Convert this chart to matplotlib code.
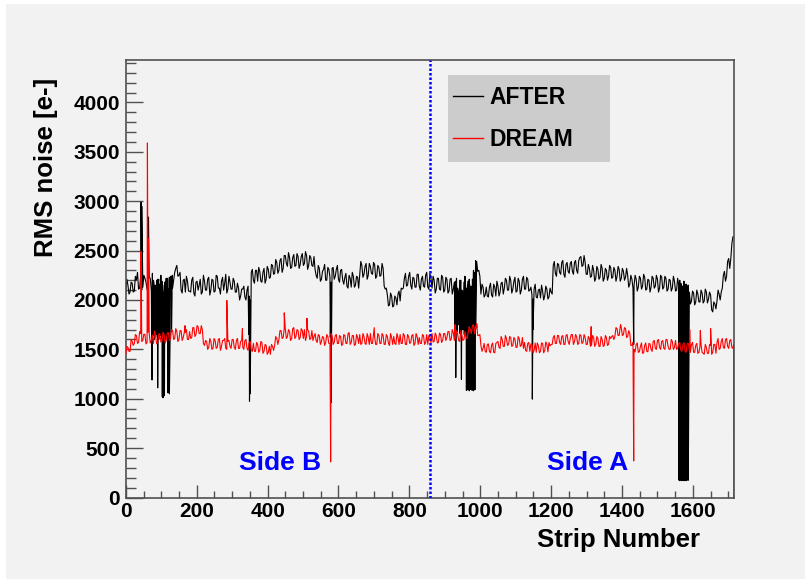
import numpy as np
import matplotlib
matplotlib.use("Agg")
import matplotlib.pyplot as plt
from matplotlib.patches import Rectangle
from matplotlib.lines import Line2D

# strip noise, every 6 strips (strip 0 ... 1716)
step = 6
after_base = [
    2060, 2150, 2080, 2170, 2090, 2200, 2110, 2240, 2130, 2220,
    2110, 2230, 2100, 2200, 2090, 2210, 2120, 2190, 2080, 2220,
    2110, 2200, 2120, 2280, 2350, 2250, 2100, 2200, 2080, 2190,
    2090, 2200, 2070, 2180, 2100, 2210, 2080, 2190, 2100, 2230,
    2100, 2200, 2090, 2240, 2120, 2190, 2100, 2260, 2110, 2180,
    2110, 2190, 2080, 2120, 2040, 2110, 2030, 2100, 2040, 2280,
    2200, 2300, 2190, 2290, 2180, 2320, 2210, 2310, 2230, 2350,
    2270, 2380, 2300, 2420, 2320, 2450, 2340, 2430, 2330, 2460,
    2350, 2440, 2360, 2470, 2370, 2450, 2350, 2430, 2340, 2310,
    2220, 2320, 2210, 2310, 2200, 2330, 2230, 2320, 2210, 2310,
    2210, 2300, 2200, 2230, 2140, 2250, 2130, 2240, 2150, 2230,
    2250, 2350, 2260, 2370, 2250, 2340, 2260, 2360, 2240, 2330,
    2250, 2320, 2110, 2050, 1950, 2040, 1940, 2020, 2060, 1990,
    2110, 2220, 2140, 2240, 2150, 2230, 2130, 2260, 2140, 2210,
    2140, 2250, 2130, 2270, 2120, 2200, 2110, 2220, 2100, 2230,
    2100, 2210, 2090, 2220, 2110, 2190, 2120, 2200, 2100, 2180,
    2110, 2190, 2100, 2210, 2280, 2390, 2300, 2060, 2130, 2050,
    2040, 2130, 2050, 2160, 2040, 2140, 2080, 2180, 2120, 2200,
    2100, 2200, 2110, 2230, 2090, 2190, 2100, 2240, 2110, 2210,
    2100, 2050, 2110, 2030, 2100, 2020, 2090, 2040, 2110, 2030,
    2080, 2350, 2270, 2370, 2280, 2380, 2260, 2360, 2290, 2370,
    2290, 2380, 2300, 2400, 2440, 2350, 2380, 2260, 2320, 2240,
    2300, 2220, 2310, 2230, 2320, 2220, 2300, 2240, 2330, 2230,
    2300, 2240, 2310, 2220, 2290, 2230, 2250, 2160, 2210, 2150,
    2210, 2130, 2220, 2140, 2230, 2110, 2200, 2130, 2220, 2140,
    2210, 2120, 2230, 2130, 2220, 2110, 2200, 2120, 2190, 2100,
    2150, 2170, 2140, 2160, 2130, 2080, 1990, 2070, 1980, 2060,
    1980, 2070, 1990, 2080, 2010, 2050, 1880, 1960, 1990, 2060,
    2080, 2250, 2190, 2390, 2320, 2570, 2640,
]
# in-between strips 3, 9, 15 ... 1713
after_mid = [
    2210, 2060, 2180, 2080, 2240, 2280, 2120, 2100, 2250, 2180,
    2070, 2220, 2270, 2120, 2060, 2210, 2250, 2090, 2180, 2080,
    2230, 2070, 2200, 2320, 2240, 2280, 2070, 2210, 2240, 2090,
    2080, 2230, 2040, 2190, 2150, 2060, 2250, 2100, 2210, 2050,
    2210, 2080, 2250, 2120, 2060, 2230, 2170, 2070, 2240, 2110,
    2220, 2080, 2170, 2000, 2110, 2140, 2000, 2140, 2000, 2310,
    2170, 2300, 2330, 2190, 2280, 2170, 2340, 2220, 2360, 2260,
    2410, 2270, 2400, 2280, 2450, 2370, 2480, 2320, 2430, 2340,
    2470, 2320, 2440, 2350, 2490, 2310, 2450, 2350, 2440, 2250,
    2350, 2190, 2290, 2360, 2200, 2310, 2180, 2330, 2240, 2350,
    2180, 2310, 2160, 2270, 2120, 2220, 2280, 2130, 2240, 2120,
    2390, 2230, 2340, 2210, 2370, 2270, 2380, 2220, 2350, 2240,
    2370, 2140, 2120, 1940, 2070, 1930, 2040, 1950, 2090, 2120,
    2120, 2270, 2150, 2280, 2110, 2220, 2130, 2260, 2100, 2240,
    2130, 2280, 2110, 2220, 2240, 2070, 2220, 2110, 2250, 2080,
    2230, 2070, 2210, 2060, 2180, 2220, 2070, 2200, 2080, 2240,
    2080, 2210, 2080, 2300, 2400, 2290, 2240, 2160, 2030, 2130,
    2030, 2170, 2030, 2130, 2190, 2040, 2170, 2060, 2220, 2100,
    2240, 2070, 2190, 2080, 2220, 2060, 2210, 2110, 2230, 2090,
    2130, 2010, 2160, 2020, 2110, 2150, 2000, 2140, 2010, 2120,
    2060, 2390, 2240, 2360, 2260, 2400, 2230, 2380, 2270, 2390,
    2260, 2400, 2270, 2430, 2340, 2450, 2260, 2360, 2230, 2350,
    2190, 2340, 2210, 2360, 2190, 2320, 2200, 2350, 2220, 2330,
    2190, 2340, 2190, 2320, 2200, 2320, 2130, 2250, 2120, 2250,
    2090, 2240, 2110, 2260, 2100, 2210, 2080, 2240, 2120, 2250,
    2080, 2250, 2110, 2240, 2090, 2210, 2090, 2240, 2090, 2220,
    2200, 2090, 2190, 2080, 2150, 1960, 2090, 1950, 2100, 1980,
    2100, 1970, 2110, 1970, 2080, 1900, 1980, 1910, 2100, 2000,
    2120, 2290, 2240, 2420, 2420, 2640,
]
dream_base = [
    1450, 1520, 1480, 1580, 1560, 1640, 1570, 1660, 1590, 1650,
    1570, 1660, 1590, 1560, 1640, 1570, 1660, 1580, 1650, 1590,
    1670, 1600, 1690, 1610, 1680, 1600, 1690, 1620, 1670, 1600,
    1680, 1620, 1720, 1650, 1730, 1660, 1700, 1540, 1580, 1520,
    1580, 1510, 1590, 1520, 1610, 1530, 1590, 1510, 1580, 1530,
    1600, 1520, 1590, 1510, 1580, 1520, 1590, 1510, 1570, 1490,
    1560, 1480, 1550, 1490, 1570, 1480, 1540, 1470, 1450, 1530,
    1540, 1610, 1600, 1690, 1620, 1710, 1630, 1680, 1610, 1720,
    1630, 1690, 1620, 1690, 1700, 1630, 1680, 1610, 1590, 1660,
    1570, 1640, 1580, 1620, 1570, 1630, 1560, 1640, 1570, 1650,
    1560, 1630, 1550, 1640, 1560, 1670, 1570, 1640, 1550, 1620,
    1650, 1560, 1630, 1550, 1620, 1660, 1560, 1630, 1550, 1640,
    1560, 1640, 1550, 1630, 1540, 1620, 1630, 1550, 1620, 1650,
    1560, 1640, 1550, 1630, 1570, 1650, 1560, 1630, 1620, 1560,
    1640, 1570, 1550, 1630, 1660, 1580, 1640, 1570, 1650, 1590,
    1660, 1620, 1680, 1600, 1670, 1610, 1660, 1580, 1640, 1600,
    1620, 1670, 1700, 1740, 1660, 1720, 1640, 1540, 1510, 1480,
    1550, 1480, 1540, 1470, 1560, 1580, 1510, 1600, 1530, 1610,
    1550, 1620, 1540, 1600, 1520, 1610, 1540, 1510, 1490, 1560,
    1480, 1550, 1490, 1470, 1540, 1480, 1560, 1490, 1550, 1570,
    1550, 1620, 1560, 1640, 1570, 1630, 1550, 1640, 1580, 1610,
    1650, 1580, 1630, 1560, 1640, 1570, 1620, 1550, 1610, 1540,
    1620, 1550, 1610, 1530, 1600, 1540, 1620, 1550, 1610, 1640,
    1630, 1710, 1640, 1720, 1650, 1710, 1630, 1660, 1540, 1500,
    1550, 1470, 1530, 1460, 1540, 1480, 1560, 1500, 1580, 1510,
    1590, 1520, 1580, 1510, 1600, 1530, 1500, 1580, 1520, 1500,
    1560, 1490, 1550, 1480, 1560, 1490, 1550, 1470, 1540, 1460,
    1530, 1470, 1450, 1520, 1460, 1540, 1470, 1550, 1570, 1500,
    1580, 1520, 1600, 1530, 1590, 1520, 0,
]
dream_mid = [
    1530, 1480, 1600, 1540, 1650, 1560, 1680, 1580, 1655, 1555,
    1675, 1565, 1645, 1685, 1555, 1655, 1575, 1675, 1565, 1665,
    1590, 1700, 1600, 1710, 1580, 1690, 1590, 1670, 1700, 1600,
    1610, 1720, 1630, 1740, 1660, 1740, 1560, 1590, 1500, 1610,
    1500, 1610, 1510, 1600, 1490, 1590, 1610, 1500, 1590, 1510,
    1600, 1500, 1610, 1510, 1590, 1500, 1600, 1490, 1580, 1480,
    1480, 1570, 1470, 1580, 1460, 1550, 1450, 1530, 1550, 1490,
    1630, 1550, 1690, 1610, 1710, 1610, 1700, 1590, 1710, 1610,
    1700, 1600, 1710, 1610, 1590, 1700, 1600, 1690, 1630, 1590,
    1650, 1550, 1630, 1540, 1650, 1560, 1660, 1550, 1640, 1560,
    1640, 1540, 1650, 1560, 1660, 1550, 1640, 1540, 1650, 1560,
    1550, 1660, 1560, 1660, 1550, 1560, 1660, 1550, 1660, 1560,
    1660, 1550, 1650, 1560, 1660, 1550, 1560, 1660, 1550, 1560,
    1660, 1550, 1650, 1560, 1640, 1540, 1660, 1550, 1560, 1650,
    1550, 1650, 1640, 1565, 1575, 1665, 1565, 1665, 1570, 1660,
    1590, 1680, 1590, 1700, 1590, 1690, 1590, 1690, 1590, 1680,
    1610, 1730, 1660, 1750, 1740, 1640, 1650, 1480, 1560, 1470,
    1555, 1465, 1565, 1465, 1570, 1520, 1630, 1530, 1640, 1540,
    1630, 1530, 1620, 1520, 1630, 1530, 1620, 1570, 1480, 1570,
    1555, 1465, 1565, 1565, 1465, 1565, 1465, 1575, 1475, 1535,
    1550, 1640, 1560, 1640, 1550, 1640, 1550, 1650, 1550, 1650,
    1550, 1650, 1550, 1650, 1560, 1650, 1550, 1630, 1530, 1640,
    1530, 1630, 1530, 1630, 1530, 1640, 1540, 1630, 1630, 1600,
    1720, 1640, 1730, 1640, 1720, 1620, 1690, 1540, 1570, 1475,
    1565, 1475, 1565, 1465, 1565, 1475, 1555, 1480, 1590, 1500,
    1600, 1500, 1590, 1500, 1600, 1500, 1600, 1500, 1590, 1510,
    1570, 1480, 1570, 1470, 1560, 1470, 1570, 1470, 1560, 1470,
    1550, 1460, 1550, 1460, 1550, 1450, 1550, 1460, 1610, 1510,
    1610, 1510, 1610, 1510, 1600, 1510,
]

# single-strip spikes and dead/noisy strips
after_evt_strip = [43, 45, 64,
                   73, 74, 75, 77, 79, 81, 83, 85, 87, 89, 90, 91, 93, 95, 97, 99,
                   101, 103, 104, 105, 107, 109, 110, 111, 113, 115, 117, 119,
                   121, 122, 123, 125, 127, 129, 131,
                   347, 349, 351, 577, 579,
                   929, 931, 935, 939, 943, 947, 951, 955, 958, 959, 961, 962,
                   963, 964, 965, 967, 968, 969, 970, 971, 973, 974, 975, 976,
                   977, 979, 980, 981, 982, 983, 985, 986, 987,
                   1147, 1149, 1433,
                   1561, 1562, 1563, 1564, 1565, 1567, 1568, 1569, 1570, 1571,
                   1573, 1574, 1575, 1576, 1577, 1579, 1580, 1581, 1582, 1583,
                   1585, 1586, 1587]
after_evt_value = [2990, 2950, 2840,
                   1620, 1190, 2160, 1640, 2180, 1600, 2150, 1650, 2200, 1620, 1110, 2170, 1600, 2160, 1640, 2200,
                   1610, 1020, 2150, 1010, 1620, 1030, 2180, 1600, 2160, 1630, 2220, 1060,
                   1600, 2200, 1050, 1620, 2240, 1680, 2250,
                   1650, 975, 1050, 1620, 960,
                   1700, 1215, 1680, 1750, 1660, 1195, 1700, 1650, 1720, 1650, 1085, 2120,
                   1660, 2150, 1090, 1700, 2130, 1080, 2160, 1650, 1095, 2140, 1680, 2120,
                   1085, 1700, 2150, 1080, 2130, 1640, 1090, 2160, 1700,
                   996, 1700, 1550,
                   175, 2140, 170, 2160, 180, 175, 2150, 170, 2130, 180,
                   175, 2160, 170, 2140, 180, 175, 2150, 170, 2160, 175,
                   180, 2140, 175]
dream_evt_strip = [43, 61, 64, 167, 285, 329, 447, 511, 578, 701, 929, 990,
                   1313, 1396, 1433, 1591, 1621, 1650, 1715]
dream_evt_value = [2490, 3590, 2620, 1740, 1995, 1710, 1870, 1815, 360, 1720, 1750, 1760,
                   1730, 1750, 370, 1700, 1690, 1710, 1550]

side_split = 858
n_strip_max = 1716


def merge(base, mid, ev_x, ev_y):
    x = np.concatenate([np.arange(len(base)) * step,
                        np.arange(len(mid)) * step + step // 2, ev_x])
    y = np.concatenate([base, mid, ev_y])
    order = np.argsort(x, kind="stable")
    return x[order], y[order]


plt.rcParams['font.family'] = ['Liberation Sans', 'DejaVu Sans']
plt.rcParams['font.weight'] = 'bold'

fig = plt.figure(figsize=(8.05, 5.79), dpi=100)
fig.patch.set_facecolor('white')
fig.patches.append(Rectangle((6 / 805, 0), 1 - 6 / 805, 1 - 4 / 579,
                             transform=fig.transFigure, facecolor='#f2f2f2',
                             edgecolor='none', zorder=-10))

ax = fig.add_axes([125.8 / 805, 1 - 497.5 / 579, 608.2 / 805, 437.5 / 579])
ax.set_facecolor('#f2f2f2')

ax_x, ax_y = merge(after_base, after_mid, after_evt_strip, after_evt_value)
dr_x, dr_y = merge(dream_base, dream_mid, dream_evt_strip, dream_evt_value)
ax.plot(ax_x, ax_y, color='black', lw=0.8, zorder=2)
ax.plot(dr_x, dr_y, color='#ff0000', lw=0.8, zorder=3)

ax.axvline(side_split, color='#0000ff', lw=1.8, linestyle=(0, (1, 0.8)), zorder=4)

ax.set_xlim(0, n_strip_max)
ax.set_ylim(0, 4430)
ax.set_xticks(np.arange(0, 1601, 200))
ax.set_xticks(np.arange(0, n_strip_max, 50), minor=True)
ax.set_yticks(np.arange(0, 4001, 500))
ax.set_yticks(np.arange(0, 4430, 100), minor=True)

for s in ax.spines.values():
    s.set_color('#505050')
    s.set_linewidth(1.2)
ax.tick_params(which='both', direction='in', color='#505050', width=1,
               top=False, right=False, labelsize=15)
ax.tick_params(axis='y', which='major', length=12, pad=4)
ax.tick_params(axis='y', which='minor', length=7)
ax.tick_params(axis='x', which='major', length=9.5, pad=3.5)
ax.tick_params(axis='x', which='minor', length=5)

fig.text(46 / 805, 1 - 78 / 579, 'RMS noise [e-]', rotation=90, ha='center',
         va='top', fontsize=18.5, fontweight='bold')
fig.text(700 / 805, 1 - 540 / 579, 'Strip Number', ha='right', va='center',
         fontsize=18.5, fontweight='bold')

ax.text(0.253, 0.078, 'Side B', transform=ax.transAxes, color='#0000ff',
        fontsize=19, fontweight='bold', ha='center', va='center')
ax.text(0.759, 0.078, 'Side A', transform=ax.transAxes, color='#0000ff',
        fontsize=19, fontweight='bold', ha='center', va='center')

# legend box
ax.add_patch(Rectangle((448 / 805, 1 - 162 / 579), 162 / 805, 87 / 579,
                       transform=fig.transFigure, facecolor='#cccccc',
                       edgecolor='none', zorder=4, clip_on=False))
handles = [Line2D([], [], color='black', lw=1), Line2D([], [], color='#ff0000', lw=1)]
leg = ax.legend(handles, ['AFTER', 'DREAM'], loc='center left',
                bbox_to_anchor=(453 / 805, 1 - 118.5 / 579),
                bbox_transform=fig.transFigure, frameon=False,
                prop={'size': 16.5, 'weight': 'bold'}, handlelength=1.3,
                handletextpad=0.3, labelspacing=0.85, borderpad=0,
                borderaxespad=0)
leg.set_zorder(5)

fig.savefig('out.png', dpi=100)
